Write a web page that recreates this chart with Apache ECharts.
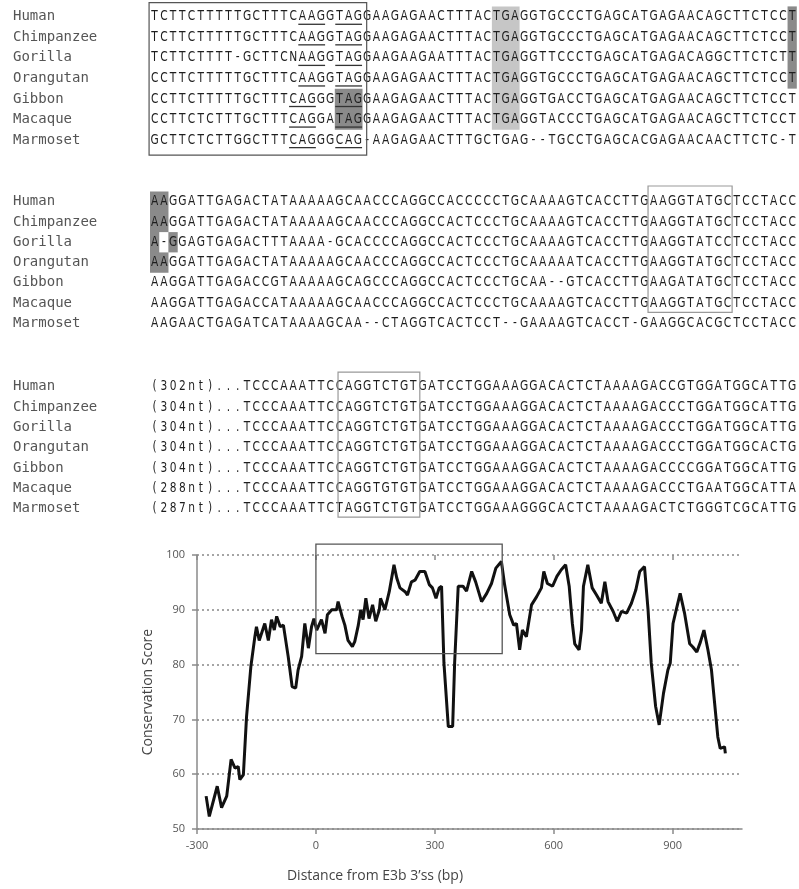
<!DOCTYPE html>
<html><head><meta charset="utf-8">
<script src="https://cdn.jsdelivr.net/npm/echarts@6/dist/echarts.min.js"></script>
<style>html,body{margin:0;padding:0;background:#fff}#c{width:799px;height:889px}</style>
</head><body><div id="c"></div>
<script>
// ---------- data ----------
const species = ['Human','Chimpanzee','Gorilla','Orangutan','Gibbon','Macaque','Marmoset'];
const block1 = [
 'TCTTCTTTTTGCTTTCAAGGTAGGAAGAGAACTTTACTGAGGTGCCCTGAGCATGAGAACAGCTTCTCCT',
 'TCTTCTTTTTGCTTTCAAGGTAGGAAGAGAACTTTACTGAGGTGCCCTGAGCATGAGAACAGCTTCTCCT',
 'TCTTCTTTT-GCTTCNAAGGTAGGAAGAAGAATTTACTGAGGTTCCCTGAGCATGAGACAGGCTTCTCTT',
 'CCTTCTTTTTGCTTTCAAGGTAGGAAGAGAACTTTACTGAGGTGCCCTGAGCATGAGAACAGCTTCTCCT',
 'CCTTCTTTTTGCTTTCAGGGTAGGAAGAGAACTTTACTGAGGTGACCTGAGCATGAGAACAGCTTCTCCT',
 'CCTTCTCTTTGCTTTCAGGATAGGAAGAGAACTTTACTGAGGTACCCTGAGCATGAGAACAGCTTCTCCT',
 'GCTTCTCTTGGCTTTCAGGGCAG-AAGAGAACTTTGCTGAG--TGCCTGAGCACGAGAACAACTTCTC-T'
];
const block2 = [
 'AAGGATTGAGACTATAAAAAGCAACCCAGGCCACCCCCTGCAAAAGTCACCTTGAAGGTATGCTCCTACC',
 'AAGGATTGAGACTATAAAAAGCAACCCAGGCCACTCCCTGCAAAAGTCACCTTGAAGGTATGCTCCTACC',
 'A-GGAGTGAGACTTTAAAA-GCACCCCAGGCCACTCCCTGCAAAAGTCACCTTGAAGGTATCCTCCTACC',
 'AAGGATTGAGACTATAAAAAGCAACCCAGGCCACTCCCTGCAAAAATCACCTTGAAGGTATGCTCCTACC',
 'AAGGATTGAGACCGTAAAAAGCAGCCCAGGCCACTCCCTGCAA--GTCACCTTGAAGATATGCTCCTACC',
 'AAGGATTGAGACCATAAAAAGCAACCCAGGCCACTCCCTGCAAAAGTCACCTTGAAGGTATGCTCCTACC',
 'AAGAACTGAGATCATAAAAGCAA--CTAGGTCACTCCT--GAAAAGTCACCT-GAAGGCACGCTCCTACC'
];
const block3 = [
 '(302nt)...TCCCAAATTCCAGGTCTGTGATCCTGGAAAGGACACTCTAAAAGACCGTGGATGGCATTG',
 '(304nt)...TCCCAAATTCCAGGTCTGTGATCCTGGAAAGGACACTCTAAAAGACCCTGGATGGCATTG',
 '(304nt)...TCCCAAATTCCAGGTCTGTGATCCTGGAAAGGACACTCTAAAAGACCCTGGATGGCATTG',
 '(304nt)...TCCCAAATTCCAGGTCTGTGATCCTGGAAAGGACACTCTAAAAGACCCTGGATGGCACTG',
 '(304nt)...TCCCAAATTCCAGGTCTGTGATCCTGGAAAGGACACTCTAAAAGACCCCGGATGGCATTG',
 '(288nt)...TCCCAAATTCCAGGTGTGTGATCCTGGAAAGGACACTCTAAAAGACCCTGAATGGCATTA',
 '(287nt)...TCCCAAATTCTAGGTCTGTGATCCTGGAAAGGGCACTCTAAAAGACTCTGGGTCGCATTG'
];
// shaded cells: [block, firstCol, lastCol, firstRow, lastRow, tone]
const shading = [
 [0,38,40,0,5,'light'],
 [0,70,70,0,3,'dark'],
 [0,21,23,4,5,'dark'],
 [1,1,2,0,3,'dark'],
 [1,2,2,2,2,'blank'],
 [1,3,3,2,2,'dark']
];
// underlined motifs: [block, firstCol, lastCol, firstRow, lastRow]
const underlines = [
 [0,17,19,0,3],[0,21,23,0,3],[0,16,18,4,6],[0,21,23,4,6]
];
// framed regions (column / row units): [block, colFrom, colTo, rowFrom, rowTo]
const frames = [
 [0,-0.1,23.45,-0.68,6.73],
 [1,53.9,63.0,-0.77,5.45],
 [2,20.35,29.2,-0.72,6.42]
];
// conservation score curve
const distance = [-277,-269,-249,-238,-225,-214,-204,-196,-192,-183,-175,-164,-154,-150,-143,-129,-120,-112,-105,-99,-90,-82,-70,-60,-51,-45,-36,-28,-19,-11,-5,2,14,23,29,40,52,56,66,73,81,92,98,107,113,119,126,134,143,151,160,163,174,185,197,204,212,225,231,241,250,262,275,286,294,303,311,317,323,334,345,350,359,371,380,393,403,418,431,443,454,468,476,489,499,506,514,521,531,544,557,569,575,584,597,608,619,630,639,647,653,664,670,675,686,697,708,720,729,737,750,760,771,784,796,807,817,829,838,846,857,866,877,888,894,901,909,919,930,943,951,961,970,979,989,998,1006,1014,1020,1031,1033];
const score = [56,52.3,57.8,53.9,56,62.7,61.1,61.4,59,59.9,70.5,79.7,85.1,86.9,84.4,87.5,84.4,88.2,86.3,88.8,86.9,87.2,81.5,76,75.7,79,81.5,87.5,83,86.9,88.4,86.3,88.2,85.7,89.1,90,90,91.5,88.8,87.2,84.4,83.3,84.2,87.2,90,88.2,92.1,88.4,90.9,87.9,90,92.1,90,93.3,98.2,95.8,94,93.3,92.7,95.1,95.4,97,97,94.6,94,92.1,94,94.3,80.3,68.7,68.7,80.3,94.3,94.3,93.4,97,95.1,91.5,93,94.8,97.6,98.8,94.6,89.1,87.2,87.5,82.7,86.3,85.1,90.9,92.4,94,97,94.8,94.3,96.1,97.3,98.2,94.3,87.5,83.8,82.7,86.3,94.3,98.2,94,92.7,91.2,95.1,91.5,89.7,87.9,89.7,89.4,91.2,93.6,97,97.9,90,80.3,72.4,69,74.8,79,80.3,87.5,90,93,89.4,83.8,83.2,82.3,84.1,86.3,82.7,79,72.9,66.8,64.7,65,63.8];
const xTicks = [-300,0,300,600,900];
const highlightBox = [0,82,470,102];

// ---------- chart ----------
const blocks = [block1, block2, block3];
const toneColor = {light:'#c6c6c6', dark:'#8a8a8a', blank:'#ffffff'};
const seqFont = 'DejaVu Sans';
const blockGrids = [
  {left:150, width:646.8, top:6.4, height:143.9},
  {left:150, width:646.8, top:191.5, height:142.1},
  {left:150, width:646.8, top:376.6, height:142.1}
];
const grids = blockGrids.concat([{left:197, top:555, width:545, height:274}]);

const xAxes = [], yAxes = [], series = [];
blocks.forEach((blk, b) => {
  xAxes.push({type:'value', gridIndex:b, min:0, max:70, show:false});
  yAxes.push({type:'value', gridIndex:b, min:-0.5, max:6.5, inverse:true, show:false});
});
blocks.forEach((blk, b) => {
  yAxes.push({type:'category', gridIndex:b, data:species, inverse:true, position:'left',
    axisLine:{show:false}, axisTick:{show:false},
    axisLabel:{align:'left', margin:137, fontFamily:'DejaVu Sans Mono', fontSize:14, color:'#555'}});
});

blocks.forEach((blk, b) => {
  // shading
  series.push({type:'custom', xAxisIndex:b, yAxisIndex:b, silent:true, z:1, clip:false,
    data: shading.filter(s => s[0] === b).map(s => [s[1], s[3], s[2], s[4]]),
    renderItem(params, api) {
      const s = shading.filter(t => t[0] === b)[params.dataIndex];
      const p0 = api.coord([s[1]-1, s[3]-0.5]);
      const p1 = api.coord([s[2], s[4]+0.5]);
      return {type:'rect', shape:{x:p0[0], y:p0[1], width:p1[0]-p0[0], height:p1[1]-p0[1]},
        style:{fill:toneColor[s[5]]}};
    }});
  // letters
  series.push({type:'custom', xAxisIndex:b, yAxisIndex:b, silent:true, z:3, clip:false,
    data: blk.map((s, i) => [0, i]),
    renderItem(params, api) {
      const row = params.dataIndex, str = blk[row];
      const children = [];
      for (let c = 0; c < str.length; c++) {
        const p = api.coord([c + 0.5, row]);
        children.push({type:'text', x:p[0], y:p[1], scaleX:0.76,
          style:{text:str[c], align:'center', verticalAlign:'middle',
            fontFamily:seqFont, fontSize:14, fill:'#1e1e1e'}});
      }
      return {type:'group', children};
    }});
  // underlines
  const ul = underlines.filter(u => u[0] === b);
  if (ul.length) {
    series.push({type:'custom', xAxisIndex:b, yAxisIndex:b, silent:true, z:4, clip:false,
      data: ul.map(u => [u[1], u[3]]),
      renderItem(params, api) {
        const u = ul[params.dataIndex];
        const children = [];
        for (let r = u[3]; r <= u[4]; r++) {
          const p0 = api.coord([u[1]-1+0.05, r+0.37]);
          const p1 = api.coord([u[2]-0.05, r+0.37]);
          children.push({type:'line', shape:{x1:p0[0], y1:p0[1], x2:p1[0], y2:p1[1]},
            style:{stroke:'#333', lineWidth:1.3}});
        }
        return {type:'group', children};
      }});
  }
  // frames
  const fr = frames.filter(f => f[0] === b);
  series.push({type:'custom', xAxisIndex:b, yAxisIndex:b, silent:true, z:5, clip:false,
    data: fr.map(f => [f[1], f[3]]),
    renderItem(params, api) {
      const f = fr[params.dataIndex];
      const p0 = api.coord([f[1], f[3]]);
      const p1 = api.coord([f[2], f[4]]);
      return {type:'rect', shape:{x:p0[0], y:p0[1], width:p1[0]-p0[0], height:p1[1]-p0[1]},
        style:{fill:'none', stroke: b === 0 ? '#555' : '#999', lineWidth:1.2}};
    }});
});

// conservation chart axes
const axisGray = '#8a8a8a';
xAxes.push({type:'value', gridIndex:3, min:-300, max:1075, interval:300,
  axisLine:{show:true, onZero:false, lineStyle:{color:axisGray, width:1.5}},
  axisTick:{show:true, customValues:xTicks, length:5, lineStyle:{color:axisGray, width:1.5}},
  axisLabel:{customValues:xTicks, color:'#555', fontSize:11, margin:11, fontFamily:'Open Sans'},
  splitLine:{show:false}});
xAxes.push({type:'value', gridIndex:3, min:-300, max:1075, interval:300,
  axisLine:{show:false, onZero:false},
  axisTick:{show:true, inside:true, customValues:xTicks, length:5, lineStyle:{color:axisGray, width:1.5}},
  axisLabel:{show:false}, splitLine:{show:false}});
yAxes.push({type:'value', gridIndex:3, min:50, max:100, interval:10,
  axisLine:{show:true, onZero:false, lineStyle:{color:axisGray, width:1.5}},
  axisTick:{show:true, length:5, lineStyle:{color:axisGray, width:1.5}},
  axisLabel:{color:'#555', fontSize:11, margin:12, fontFamily:'Open Sans'},
  splitLine:{show:true, lineStyle:{color:'#888', type:[2,3], width:1.5}},
  name:'Conservation Score', nameLocation:'middle', nameGap:34,
  nameTextStyle:{fontSize:14, color:'#444', fontFamily:'Open Sans'}});

series.push({type:'line', xAxisIndex:3, yAxisIndex:6, showSymbol:false, z:3,
  data: distance.map((d, i) => [d, score[i]]),
  lineStyle:{color:'#111', width:3}});
series.push({type:'custom', xAxisIndex:3, yAxisIndex:6, silent:true, z:4, clip:false,
  data:[[highlightBox[0], highlightBox[1]]],
  renderItem(params, api) {
    const p0 = api.coord([highlightBox[0], highlightBox[3]]);
    const p1 = api.coord([highlightBox[2], highlightBox[1]]);
    return {type:'rect', shape:{x:p0[0], y:p0[1], width:p1[0]-p0[0], height:p1[1]-p0[1]},
      style:{fill:'none', stroke:'#555', lineWidth:1.3}};
  }});

const chart = echarts.init(document.getElementById('c'), null, {renderer:'canvas'});
chart.setOption({
  animation:false,
  backgroundColor:'#fff',
  grid:grids, xAxis:xAxes, yAxis:yAxes, series,
  graphic:[{type:'text', x:375, y:876,
    style:{text:'Distance from E3b 3\u2019ss (bp)', align:'center', verticalAlign:'middle',
      fontSize:14, fill:'#444', fontFamily:'Open Sans'}}]
});
</script></body></html>
